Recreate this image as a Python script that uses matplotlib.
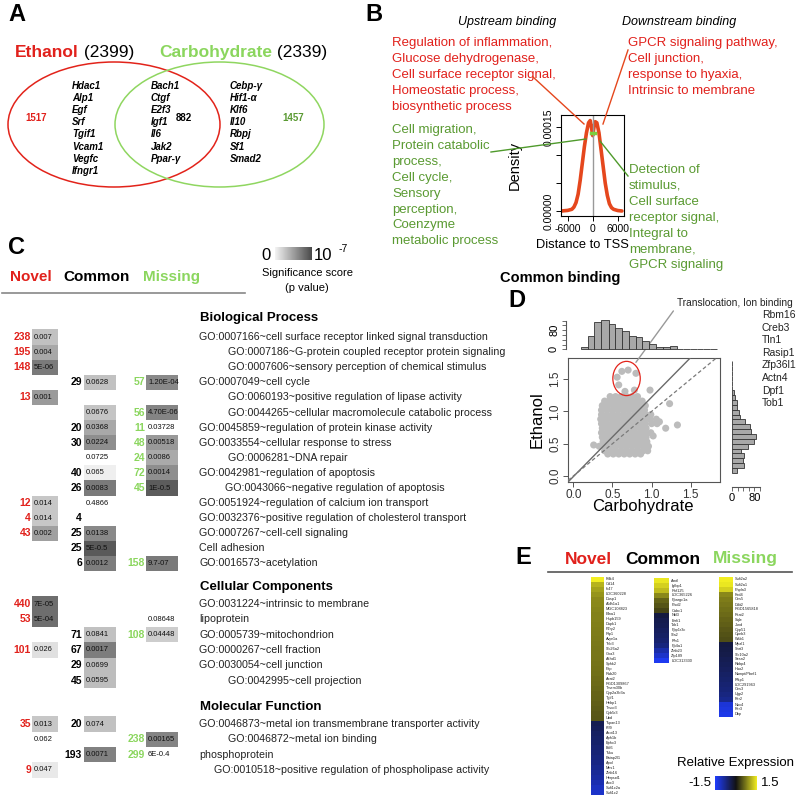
import numpy as np
import matplotlib
matplotlib.use("Agg")
import matplotlib.pyplot as plt
from matplotlib.patches import Ellipse, Rectangle
from matplotlib.lines import Line2D
from matplotlib.colors import LinearSegmentedColormap, Normalize
from matplotlib.cm import ScalarMappable

plt.rcParams['font.family'] = ['Liberation Sans', 'DejaVu Sans']

W, H = 800, 797
RED = '#e1211c'
GREEN = '#8bd65e'
OLIVE = '#5a9a32'

# ---------------- panel A data
eth_total, carb_total = 2399, 2339
eth_only, both_n, carb_only = 1517, 882, 1457
genes_eth = ['Hdac1', 'Alp1', 'Egf', 'Srf', 'Tgif1', 'Vcam1', 'Vegfc', 'Ifngr1']
genes_both = ['Bach1', 'Ctgf', 'E2f3', 'Igf1', 'Il6', 'Jak2', 'Ppar-γ']
genes_carb = ['Cebp-γ', 'Hif1-α', 'Klf6', 'Il10', 'Rbpj', 'Sf1', 'Smad2']

# ---------------- panel B data
tss_dist = [-7500, -6000, -5000, -4500, -4000, -3500, -3000, -2500, -2000, -1500,
            -1000, -600, -300, 0, 300, 600, 1000, 1500, 2000, 2500, 3000, 3500,
            4000, 4500, 5000, 6000, 7000]
tss_dens = [0, 0.1, 0.3, 0.7, 1.5, 3.0, 5.5, 8.5, 11.5, 14.0, 15.8, 16.2, 15.0, 13.5,
            15.0, 16.0, 15.8, 14.0, 11.0, 8.0, 5.0, 2.8, 1.3, 0.6, 0.3, 0.08, 0]  # x 1e-5
up_red = ['Regulation of inflammation,', 'Glucose dehydrogenase,',
          'Cell surface receptor signal,', 'Homeostatic process,', 'biosynthetic process']
down_red = ['GPCR signaling pathway,', 'Cell junction,', 'response to hyaxia,',
            'Intrinsic to membrane']
up_green = ['Cell migration,', 'Protein catabolic', 'process,', 'Cell cycle,', 'Sensory',
            'perception,', 'Coenzyme', 'metabolic process']
down_green = ['Detection of', 'stimulus,', 'Cell surface', 'receptor signal,',
              'Integral to', 'membrane,', 'GPCR signaling']

# ---------------- panel C data  (count, p value, significance level 0..1)
bp_terms = ['GO:0007166~cell surface receptor linked signal transduction',
            'GO:0007186~G-protein coupled receptor protein signaling',
            'GO:0007606~sensory perception of chemical stimulus',
            'GO:0007049~cell cycle',
            'GO:0060193~positive regulation of lipase activity',
            'GO:0044265~cellular macromolecule catabolic process',
            'GO:0045859~regulation of protein kinase activity',
            'GO:0033554~cellular response to stress',
            'GO:0006281~DNA repair',
            'GO:0042981~regulation of apoptosis',
            'GO:0043066~negative regulation of apoptosis',
            'GO:0051924~regulation of calcium ion transport',
            'GO:0032376~positive regulation of cholesterol transport',
            'GO:0007267~cell-cell signaling',
            'Cell adhesion',
            'GO:0016573~acetylation']
bp_indent = [0, 1, 1, 0, 1, 1, 0, 0, 1, 0, 0.9, 0, 0, 0, 0, 0]
bp_novel = [('238', '0.007', .30), ('195', '0.004', .44), ('148', '5E-06', .71), None,
            ('13', '0.001', .52), None, None, None, None, None, None,
            ('12', '0.014', .26), ('4', '0.014', .26), ('43', '0.002', .49), None, None]
bp_common = [None, None, None, ('29', '0.0628', .30), None, ('', '0.0676', .28),
             ('20', '0.0368', .44), ('30', '0.0224', .59), ('', '0.0725', None),
             ('40', '0.065', .03), ('26', '0.0083', .71), ('', '0.4866', None),
             ('4', '', None), ('25', '0.0138', .62), ('25', '5E-0.5', .90),
             ('6', '0.0012', .69)]
bp_missing = [None, None, None, ('57', '1.20E-04', .62), None, ('56', '4.70E-06', .65),
              ('11', '0.03728', None), ('48', '0.00518', .53), ('24', '0.0086', .43),
              ('72', '0.0014', .59), ('45', '1E-0.5', .88), None, None, None, None,
              ('158', '9.7-07', .71)]

cc_terms = ['GO:0031224~intrinsic to membrane', 'lipoprotein',
            'GO:0005739~mitochondrion', 'GO:0000267~cell fraction',
            'GO:0030054~cell junction', 'GO:0042995~cell projection']
cc_indent = [0, 0, 0, 0, 0, 1]
cc_novel = [('440', '7E-05', .78), ('53', '5E-04', .78), None, ('101', '0.026', .12),
            None, None]
cc_common = [None, None, ('71', '0.0841', .30), ('67', '0.0017', .69),
             ('29', '0.0699', .32), ('45', '0.0595', .32)]
cc_missing = [None, ('', '0.08648', None), ('108', '0.04448', .23), None, None, None]

mf_terms = ['GO:0046873~metal ion transmembrane transporter activity',
            'GO:0046872~metal ion binding', 'phosphoprotein',
            'GO:0010518~positive regulation of phospholipase activity']
mf_indent = [0, 1, 0, 0.5]
mf_novel = [('35', '0.013', .26), ('', '0.062', None), None, ('9', '0.047', .07)]
mf_common = [('20', '0.074', .30), None, ('193', '0.0071', .67), None]
mf_missing = [None, ('238', '0.00165', .65), ('299', '6E-0.4', None), None]

# ---------------- panel D data
cloud_eth = [1.23, 1.16, 1.09, 1.02, 0.95, 0.88, 0.81, 0.74, 0.67, 0.60, 0.53, 0.46,
             0.39, 0.34]
cloud_carb = [
    [0.47, 0.54, 0.61, 0.68, 0.75, 0.82],
    [0.40, 0.46, 0.53, 0.60, 0.67, 0.74, 0.81, 0.88],
    [0.37, 0.44, 0.51, 0.58, 0.65, 0.72, 0.79, 0.86, 0.92],
    [0.36, 0.43, 0.50, 0.57, 0.64, 0.71, 0.78, 0.85, 0.91],
    [0.36, 0.43, 0.50, 0.57, 0.64, 0.71, 0.78, 0.85, 0.92, 0.99],
    [0.35, 0.42, 0.49, 0.56, 0.63, 0.70, 0.77, 0.84, 0.91, 0.98, 1.06],
    [0.36, 0.43, 0.50, 0.57, 0.64, 0.71, 0.78, 0.85, 0.92, 1.00, 1.07],
    [0.37, 0.44, 0.51, 0.58, 0.65, 0.72, 0.79, 0.86, 0.93],
    [0.36, 0.43, 0.50, 0.57, 0.64, 0.71, 0.78, 0.85, 0.92, 0.99],
    [0.37, 0.44, 0.51, 0.58, 0.65, 0.72, 0.79, 0.86, 0.93],
    [0.38, 0.45, 0.52, 0.59, 0.66, 0.73, 0.80, 0.87, 0.94],
    [0.33, 0.40, 0.47, 0.54, 0.61, 0.68, 0.75, 0.82, 0.89, 0.96],
    [0.40, 0.47, 0.54, 0.61, 0.68, 0.75, 0.82, 0.89, 0.95],
    [0.44, 0.51, 0.58, 0.65, 0.72, 0.79, 0.86],
]
outlier_carb = [1.23, 1.33, 1.18, 1.10, 0.98, 0.26, 1.02]
outlier_eth = [1.12, 0.79, 0.74, 0.84, 1.33, 0.48, 0.62]
circled_carb = [0.62, 0.70, 0.80, 0.56, 0.58, 0.66, 0.78]
circled_eth = [1.62, 1.64, 1.59, 1.53, 1.41, 1.31, 1.33]
fit_slope, fit_icpt = 1.23, -0.01
carb_edges = [0.10, 0.19, 0.27, 0.36, 0.45, 0.53, 0.62, 0.71, 0.80, 0.88, 0.97, 1.06,
              1.14, 1.23, 1.32, 1.40, 1.49, 1.58, 1.66, 1.75, 1.84]
carb_counts = [11, 55, 115, 124, 108, 91, 77, 55, 52, 36, 22, 11, 11, 14, 3, 2, 2, 1, 1, 1]
eth_edges = [0.05, 0.125, 0.20, 0.275, 0.35, 0.425, 0.50, 0.575, 0.65, 0.725, 0.80,
             0.875, 0.95, 1.025, 1.10, 1.175, 1.25, 1.325, 1.40, 1.475, 1.55, 1.625,
             1.70, 1.775]
eth_counts = [17, 42, 40, 42, 31, 57, 80, 86, 69, 63, 46, 29, 26, 17, 17, 11, 6, 2, 1,
              1, 1, 1, 1]
circled_genes = ['Rbm16', 'Creb3', 'Tln1', 'Rasip1', 'Zfp36l1', 'Actn4', 'Dpf1', 'Tob1']

# ---------------- panel E data
novel_genes = ['Pdk4', 'Cd14', 'Ifi47', 'LOC360228', 'Dusp1', 'Aldh1a1', 'MGC108823',
               'Efna1', 'Hspb159', 'Dapk1', 'P2ry2', 'Rlp1', 'Avpr1a', 'Trib3',
               'Slc26a2', 'Gna3', 'Akhd1', 'Sphk2', 'Pltp', 'Rab20', 'Acat2',
               'RGD1309867', 'Tmem30b', 'Cyp2a3b3a', 'Tgif1', 'Hebp1', 'Tmco3',
               'Cyb5r3', 'Ubd', 'Tspan13', 'Klf9', 'Acot13', 'Aph1b', 'Ephx3', 'Bcl6',
               'Tsku', 'Baiap2l1', 'Apol', 'Mns1', 'Zbtb16', 'Herpud1', 'Aox3',
               'Sult1c2a', 'Sult1c2']
novel_expr = [1.5, 1.1, 0.98, 0.88, 0.82, 0.8, 0.78, 0.76, 0.75, 0.74, 0.73, 0.72,
              0.71, 0.7, 0.69, 0.68, 0.67, 0.66, 0.65, 0.64, 0.62, 0.6, 0.58, 0.56,
              0.54, 0.52, 0.5, 0.48, 0.46, -0.4, -0.45, -0.5, -0.53, -0.56, -0.6, -0.63,
              -0.67, -0.72, -0.78, -0.84, -0.9, -1.0, -1.1, -1.15]
common_genes = ['Arntl', 'Igfbp1', 'Rnf125', 'LOC365226', 'Ppargc1a', 'Pisd2', 'Cabc1',
                'Nfil3', 'Errfi1', 'Tob1', 'Ppp1r3c', 'Sla2', 'Pfn1', 'Pp4a1', 'Zbtb23',
                'Zfp189', 'LOC313330']
common_expr = [1.45, 1.3, 1.15, 0.8, 0.55, 0.45, 0.35, -0.3, -0.38, -0.42, -0.48, -0.52,
               -0.58, -0.68, -0.95, -1.15, -1.4]
missing_genes = ['Sult2a2', 'Sult2a1', 'Pnpla3', 'Fxd4', 'Ces5', 'Ddit2', 'RGD1565818',
                 'Psat2', 'Sqle', 'Jund', 'Cyp51', 'Cpeb3', 'Wsb1', 'Mpzl1', 'Snrt3',
                 'Slc10a2', 'Sesn2', 'Rbbp4', 'Hao2', 'Nampt/Pbef1', 'Pfkp1',
                 'LOC291963', 'Ces3', 'Ugp2', 'Per2', 'Nox4', 'Per3', 'Dbp']
missing_expr = [1.5, 1.45, 1.3, 0.8, 0.72, 0.68, 0.64, 0.6, 0.56, 0.52, 0.48, 0.44, 0.4,
                -0.3, -0.33, -0.36, -0.4, -0.44, -0.48, -0.52, -0.56, -0.6, -0.64, -0.7,
                -0.78, -1.25, -1.3, -1.35]


fig = plt.figure(figsize=(W / 100, H / 100), dpi=100)
base = fig.add_axes([0, 0, 1, 1])
base.set_xlim(0, W)
base.set_ylim(H, 0)
base.axis('off')


def px_axes(x0, y0, x1, y1):
    return fig.add_axes([x0 / W, 1 - y1 / H, (x1 - x0) / W, (y1 - y0) / H])


def fig_line(xs, ys, color, lw=1.0):
    fig.add_artist(Line2D(xs, ys, color=color, lw=lw, transform=base.transData))


for lab, x, y in [('A', 8, 14), ('B', 365, 14), ('C', 8, 247), ('D', 508, 300), ('E', 515, 557)]:
    base.text(x, y, lab, fontsize=17, fontweight='bold', va='center')

# ================= A
t = base.text(15, 52, 'Ethanol', color=RED, fontsize=12.5, fontweight='bold', va='center')
base.annotate(f' ({eth_total})', xy=(1, 0), xycoords=t, va='bottom', fontsize=12.5)
t = base.text(159, 52, 'Carbohydrate', color=GREEN, fontsize=12.5, fontweight='bold', va='center')
base.annotate(f' ({carb_total})', xy=(1, 0), xycoords=t, va='bottom', fontsize=12.5)
base.add_patch(Ellipse((114, 124.5), 212, 125, fill=False, ec='#e2231a', lw=1.1))
base.add_patch(Ellipse((219.5, 124.5), 209, 125, fill=False, ec='#8fd660', lw=1.1))
for i, g in enumerate(genes_eth):
    base.text(72, 86 + i * 12.1, g, fontsize=7, fontweight='bold', style='italic', va='center')
for i, g in enumerate(genes_both):
    base.text(151, 86 + i * 12.1, g, fontsize=7, fontweight='bold', style='italic', va='center')
for i, g in enumerate(genes_carb):
    base.text(230, 86 + i * 12.1, g, fontsize=7, fontweight='bold', style='italic', va='center')
base.text(25, 118, str(eth_only), color=RED, fontsize=7, fontweight='bold', va='center')
base.text(176, 118, str(both_n), fontsize=7, fontweight='bold', va='center')
base.text(282, 118, str(carb_only), color=OLIVE, fontsize=7, fontweight='bold', va='center')

# ================= B
base.text(458, 22, 'Upstream binding', fontsize=9, style='italic', va='center')
base.text(622, 22, 'Downstream binding', fontsize=9, style='italic', va='center')
for i, s in enumerate(up_red):
    base.text(392, 43 + i * 15.9, s, color=RED, fontsize=9.5, va='center')
for i, s in enumerate(down_red):
    base.text(628, 43 + i * 15.9, s, color=RED, fontsize=9.5, va='center')
for i, s in enumerate(up_green):
    base.text(392, 130 + i * 15.9, s, color=OLIVE, fontsize=9.5, va='center')
for i, s in enumerate(down_green):
    base.text(629, 170 + i * 15.9, s, color=OLIVE, fontsize=9.5, va='center')

axb = px_axes(561, 115, 624, 216)
axb.set_facecolor('none')
axb.plot(tss_dist, np.array(tss_dens) * 1e-5, color='#e5471d', lw=2.6, solid_capstyle='round')
axb.axvline(0, color='#999999', lw=1)
axb.plot([-500, 500], [14.0e-5, 14.0e-5], color='#7ccf3c', lw=2.5)
axb.set_xlim(-7600, 7500)
axb.set_ylim(-0.9e-5, 17.2e-5)
axb.set_xticks([-6000, 0, 6000])
axb.set_xticklabels(['-6000', '0', '6000'])
axb.set_yticks([0, 5e-5, 10e-5, 15e-5])
axb.set_yticklabels(['0.00000', '', '', '0.00015'], rotation=90, va='center')
axb.tick_params(labelsize=7.5, length=3.5, width=0.7, pad=2)
for sp in axb.spines.values():
    sp.set_linewidth(0.8)
base.text(515, 165, 'Density', fontsize=10.5, rotation=90, ha='center', va='center')
base.text(582, 245, 'Distance to TSS', fontsize=9.3, ha='center', va='center')
fig_line([533, 584], [77, 124], '#e5471d')
fig_line([628, 603], [50, 124], '#e5471d')
fig_line([491, 586], [152, 139], '#4f9a2c')
fig_line([600, 628], [141, 176], '#4f9a2c')

# ================= C
sig_cmap = LinearSegmentedColormap.from_list('sig', ['#f4f4f4', '#484848'])
base.text(10, 277, 'Novel', color=RED, fontsize=11, fontweight='bold', va='center')
base.text(63, 277, 'Common', fontsize=11, fontweight='bold', va='center')
base.text(143, 277, 'Missing', color=GREEN, fontsize=11, fontweight='bold', va='center')
base.plot([2, 245], [293, 293], color='#888888', lw=1.2)
cax = px_axes(275, 247, 312, 260)
cb = fig.colorbar(ScalarMappable(norm=Normalize(0, 1), cmap=sig_cmap), cax=cax,
                  orientation='horizontal')
cb.set_ticks([])
cb.outline.set_visible(False)
base.text(271, 255, '0', fontsize=12, ha='right', va='center')
base.text(314, 255, '10', fontsize=12, va='center')
base.text(339, 249, '-7', fontsize=7.5, va='center')
base.text(307, 273, 'Significance score', fontsize=8, ha='center', va='center')
base.text(307, 288, '(p value)', fontsize=8, ha='center', va='center')

col_count_x = [31, 82, 145]
col_box = [(32, 58), (84, 116), (146, 178)]
col_color = [RED, 'black', GREEN]


def draw_section(y_head, head, terms, indent, cols, y0, step):
    base.text(200, y_head, head, fontsize=9.5, fontweight='bold', va='center')
    for i, (term, lv) in enumerate(zip(terms, indent)):
        base.text(199 + lv * 29, y0 + i * step, term, fontsize=7.7, va='center', color='#222222')
    for c, cells in enumerate(cols):
        for i, cell in enumerate(cells):
            if cell is None:
                continue
            n, p, lev = cell
            y = y0 + i * step
            x0, x1 = col_box[c]
            if lev is not None:
                base.add_patch(Rectangle((x0, y - step / 2), x1 - x0, step,
                                         facecolor=sig_cmap(lev), edgecolor='none'))
            base.text(col_count_x[c], y, n, ha='right', va='center', fontsize=7.5,
                      fontweight='bold', color=col_color[c])
            base.text(x0 + 2, y, p, fontsize=5.5, va='center', color='#111111')


draw_section(318, 'Biological Process', bp_terms, bp_indent,
             [bp_novel, bp_common, bp_missing], 337, 15.1)
draw_section(587, 'Cellular Components', cc_terms, cc_indent,
             [cc_novel, cc_common, cc_missing], 604, 15.3)
draw_section(707, 'Molecular Function', mf_terms, mf_indent,
             [mf_novel, mf_common, mf_missing], 724, 15.3)

# ================= D
base.text(560, 278, 'Common binding', fontsize=10.5, fontweight='bold', ha='center', va='center')
axs = px_axes(568, 358, 720, 482)
axs.set_facecolor('none')
cx = np.concatenate([row for row in cloud_carb])
cy = np.concatenate([[y] * len(row) for y, row in zip(cloud_eth, cloud_carb)])
axs.scatter(cx, cy, s=26, color='#bcbcbc', edgecolors='none', zorder=2)
axs.scatter(outlier_carb, outlier_eth, s=26, color='#bcbcbc', edgecolors='none', zorder=2)
axs.scatter(circled_carb, circled_eth, s=26, color='#bcbcbc', edgecolors='none', zorder=2)
axs.axline((0, fit_icpt), slope=fit_slope, color='#6a6a6a', lw=1, zorder=3)
axs.axline((0, 0), slope=1, color='#7a7a7a', lw=0.9, ls=(0, (3, 2)), zorder=3)
axs.add_patch(Ellipse((0.68, 1.51), 0.35, 0.53, fill=False, ec='#e2231a', lw=0.9, zorder=4))
axs.set_xlim(-0.068, 1.874)
axs.set_ylim(-0.093, 1.827)
axs.set_xticks([0, 0.5, 1.0, 1.5])
axs.set_xticklabels(['0.0', '0.5', '1.0', '1.5'])
axs.set_yticks([0, 0.5, 1.0, 1.5])
axs.set_yticklabels(['0.0', '0.5', '1.0', '1.5'], rotation=90, va='center')
axs.tick_params(labelsize=8.5, length=3.5, width=0.7, pad=1.5, color='#555555',
                labelcolor='#333333')
for sp in axs.spines.values():
    sp.set_color('#555555')
    sp.set_linewidth(0.8)
axs.annotate('Translocation, Ion binding', xy=(0.80, 1.76), xycoords='data',
             xytext=(677 / W, 1 - 303 / H), textcoords='figure fraction', fontsize=7.3,
             va='center', ha='left', color='#222222', annotation_clip=False,
             arrowprops=dict(arrowstyle='-', color='#999999', lw=1, relpos=(0, 0.2),
                             shrinkA=1, shrinkB=0))
base.text(537, 420, 'Ethanol', fontsize=12, rotation=90, ha='center', va='center')
base.text(643, 507, 'Carbohydrate', fontsize=12, ha='center', va='center')
for i, g in enumerate(circled_genes):
    base.text(762, 315 + i * 12.6, g, fontsize=7.5, va='center', color='#222222')

axt = px_axes(566, 315, 720, 351)
axt.set_facecolor('none')
axt.bar(carb_edges[:-1], carb_counts, width=np.diff(carb_edges), align='edge',
        color='#a8a8a8', edgecolor='#333333', lw=0.6)
axt.set_xlim(-0.068 - 2 / 78.3, 1.874)
axt.set_ylim(-7, 144)
axt.set_xticks([])
axt.set_yticks([0, 20, 40, 60, 80, 100, 120])
axt.set_yticklabels(['0', '', '', '', '80', '', ''], rotation=90, va='center')
axt.tick_params(labelsize=8, length=3, width=0.6, pad=2, color='#555555')
for k in ['top', 'right', 'bottom']:
    axt.spines[k].set_visible(False)
axt.spines['left'].set_bounds(0, 120)
axt.spines['left'].set_color('#555555')

axr = px_axes(728, 358, 760, 487)
axr.set_facecolor('none')
axr.barh(eth_edges[:-1], eth_counts, height=np.diff(eth_edges), align='edge',
         color='#a8a8a8', edgecolor='#333333', lw=0.6)
axr.set_ylim(-0.093 - 5 / 64.6, 1.827)
axr.set_xlim(-14, 97)
axr.set_yticks([])
axr.set_xticks([0, 20, 40, 60, 80, 100])
axr.set_xticklabels(['0', '', '', '', '80', ''])
axr.tick_params(labelsize=8, length=3, width=0.6, pad=1.5, color='#555555')
for k in ['top', 'right', 'left']:
    axr.spines[k].set_visible(False)
axr.spines['bottom'].set_bounds(0, 100)
axr.spines['bottom'].set_color('#555555')

# ================= E
expr_cmap = LinearSegmentedColormap.from_list('expr', ['#1f3dff', '#121212', '#f2ee22'])
expr_norm = Normalize(-1.5, 1.5)
base.text(565, 559, 'Novel', color=RED, fontsize=12.5, fontweight='bold', va='center')
base.text(625, 559, 'Common', fontsize=12.5, fontweight='bold', va='center')
base.text(713, 559, 'Missing', color=GREEN, fontsize=12.5, fontweight='bold', va='center')
base.plot([548, 792], [572, 572], color='#555555', lw=1.2)


def draw_heat(box, genes, vals):
    ax = px_axes(*box)
    ax.imshow(np.array(vals)[:, None], cmap=expr_cmap, norm=expr_norm, aspect='auto',
              interpolation='nearest')
    ax.set_axis_off()
    n = len(genes)
    for i, g in enumerate(genes):
        ax.text(1.15, 1 - (i + 0.5) / n, g, transform=ax.transAxes, fontsize=2.8,
                va='center', color='#222222')


draw_heat((591, 577, 604, 795), novel_genes, novel_expr)
draw_heat((654, 578, 669, 663), common_genes, common_expr)
draw_heat((719, 577, 733, 717), missing_genes, missing_expr)

base.text(677, 763, 'Relative Expression', fontsize=9.5, va='center')
cax2 = px_axes(715, 776, 757, 790)
cb2 = fig.colorbar(ScalarMappable(norm=expr_norm, cmap=expr_cmap), cax=cax2,
                   orientation='horizontal')
cb2.set_ticks([])
cb2.outline.set_visible(False)
base.text(711, 783, '-1.5', fontsize=9.5, ha='right', va='center')
base.text(761, 783, '1.5', fontsize=9.5, va='center')

fig.savefig('out.png', dpi=100)
